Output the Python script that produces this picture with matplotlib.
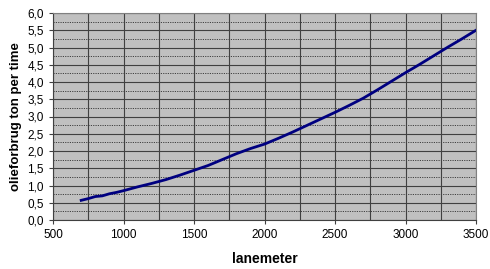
import numpy as np
import matplotlib as mpl
mpl.use('Agg')
import matplotlib.pyplot as plt  # noqa
from matplotlib.ticker import MultipleLocator, FuncFormatter  # noqa

plt.rcParams['font.family'] = ['Liberation Sans', 'DejaVu Sans']

lanemeter = [700, 750, 800, 850, 900, 950, 1000, 1100, 1200, 1300, 1400,
             1500, 1600, 1700, 1800, 1900, 2000, 2100, 2200, 2300, 2400,
             2500, 2600, 2700, 2800, 2900, 3000, 3100, 3200, 3300, 3400, 3500]
olie = [0.57, 0.62, 0.68, 0.70, 0.76, 0.80, 0.85, 0.96, 1.06, 1.17, 1.30,
        1.44, 1.58, 1.75, 1.92, 2.07, 2.20, 2.37, 2.55, 2.74, 2.93,
        3.12, 3.32, 3.53, 3.77, 4.02, 4.27, 4.51, 4.76, 5.01, 5.25, 5.50]

fig = plt.figure(figsize=(4.9, 2.69), dpi=100)
ax = fig.add_axes([53 / 490, 1 - 220 / 269, 423 / 490, 207 / 269])
ax.set_facecolor('#c0c0c0')

ax.set_xlim(500, 3500)
ax.set_ylim(0, 6)
ax.xaxis.set_major_locator(MultipleLocator(500))
ax.xaxis.set_minor_locator(MultipleLocator(250))
ax.yaxis.set_major_locator(MultipleLocator(0.5))
ax.yaxis.set_minor_locator(MultipleLocator(0.25))
ax.yaxis.set_major_formatter(FuncFormatter(
    lambda v, p: '{:.1f}'.format(v).replace('.', ',')))

# grid: solid verticals every 250, solid horizontals every 0.5, dotted between
ax.grid(True, which='major', axis='both', color='#404040', lw=0.8)
ax.grid(True, which='minor', axis='x', color='#404040', lw=0.8)
ax.grid(True, which='minor', axis='y', color='#404040', lw=0.7,
        ls=(0, (1.2, 1.2)))
ax.set_axisbelow(True)

ax.plot(lanemeter, olie, color='#000080', lw=2)

for s in ['top', 'right']:
    ax.spines[s].set_color('#808080')
for s in ['left', 'bottom']:
    ax.spines[s].set_color('#404040')
ax.tick_params(which='both', direction='out', length=3, color='#404040',
               labelsize=8.5)
ax.tick_params(which='minor', length=0)

ax.set_xlabel('lanemeter', fontsize=10, fontweight='bold', labelpad=8)
ax.set_ylabel('olieforbrug ton per time', fontsize=9.5, fontweight='bold',
              labelpad=4)

fig.savefig('out.png', dpi=100)
